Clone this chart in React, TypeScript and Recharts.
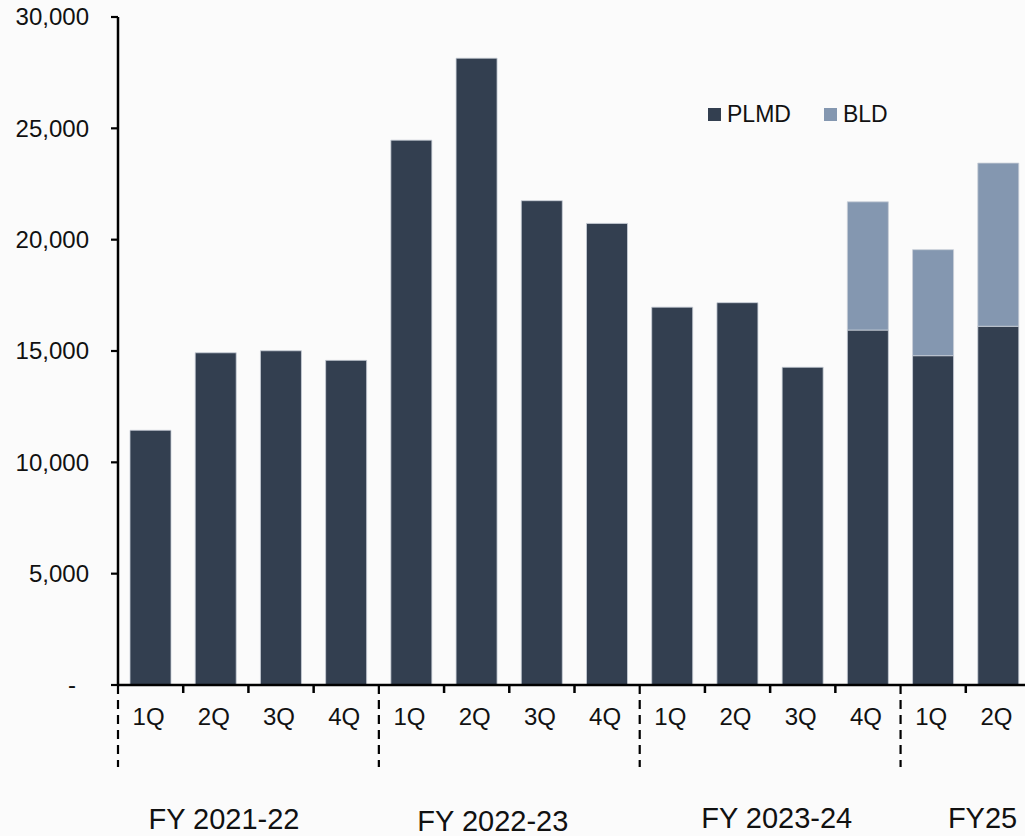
import { Bar, BarChart, XAxis, YAxis } from "recharts";

// quarterly volumes, PLMD + BLD (stacked)
const QUARTERS = ["1Q", "2Q", "3Q", "4Q", "1Q", "2Q", "3Q", "4Q", "1Q", "2Q", "3Q", "4Q", "1Q", "2Q"];
const PLMD = [11440, 14920, 15010, 14580, 24470, 28150, 21750, 20730, 16970, 17170, 14270, 15940, 14790, 16110];
const BLD = [0, 0, 0, 0, 0, 0, 0, 0, 0, 0, 0, 5760, 4760, 7330];
const Y_TICKS = [0, 5000, 10000, 15000, 20000, 25000, 30000];
const FY_GROUPS = [
  { label: "FY 2021-22", start: 0 },
  { label: "FY 2022-23", start: 4 },
  { label: "FY 2023-24", start: 8 },
  { label: "FY25", start: 12 },
];
const SERIES = [
  { key: "plmd", name: "PLMD" },
  { key: "bld", name: "BLD" },
];

const COLORS: Record<string, string> = { plmd: "#333f50", bld: "#8497b0" };
const FONT = "'Liberation Sans', Arial, sans-serif";
const CHART_W = 1031;
const CHART_H = 836;
const Y_AXIS_W = 118;
const X_AXIS_H = 151;
const BAND = (CHART_W - Y_AXIS_W) / QUARTERS.length;
// label placement relative to group start boundary (x offset, baseline)
const GROUP_LABEL_POS = [
  { dx: 106, y: 829 },
  { dx: 114, y: 831 },
  { dx: 137, y: 828 },
  { dx: 82, y: 828 },
];

const data = QUARTERS.map((q, i) => ({ q, plmd: PLMD[i], bld: BLD[i] }));

function QuarterTick(props: any) {
  const { x, y, payload } = props;
  const i: number = payload.index;
  const left = x - BAND / 2;
  const gi = FY_GROUPS.findIndex((g) => g.start === i);
  return (
    <g>
      {gi >= 0 ? (
        <line x1={left} x2={left} y1={y} y2={y + 82} stroke="#000" strokeWidth={2.2} strokeDasharray="9 6" />
      ) : (
        <line x1={left} x2={left} y1={y} y2={y + 8} stroke="#000" strokeWidth={2.5} />
      )}
      <text x={x - 2} y={y + 40} textAnchor="middle" fontSize={24} fontFamily={FONT} fill="#111">
        {QUARTERS[i]}
      </text>
      {gi >= 0 && (
        <text x={left + GROUP_LABEL_POS[gi].dx} y={GROUP_LABEL_POS[gi].y} textAnchor="middle" fontSize={29} fontFamily={FONT} fill="#111">
          {FY_GROUPS[gi].label}
        </text>
      )}
    </g>
  );
}

function ValueTick(props: any) {
  const { x, y, payload } = props;
  const v: number = payload.value;
  return (
    <text x={v === 0 ? x - 13 : x} y={y} dy="0.35em" textAnchor="end" fontSize={24} fontFamily={FONT} fill="#111">
      {v === 0 ? "-" : v.toLocaleString("en-US")}
    </text>
  );
}

function LegendBox() {
  return (
    <div style={{ position: "absolute", top: 102, left: 708, display: "flex", alignItems: "center", height: 24, fontFamily: FONT, fontSize: 23, color: "#111" }}>
      {SERIES.map((s, k) => (
        <div key={s.key} style={{ display: "flex", alignItems: "center", marginRight: k === 0 ? 33 : 0 }}>
          <span style={{ display: "inline-block", width: 13, height: 13, background: COLORS[s.key], marginRight: 6 }} />
          <span>{s.name}</span>
        </div>
      ))}
    </div>
  );
}

export default function App() {
  return (
    <div style={{ position: "absolute", left: 0, top: 0, width: 1025, height: 836, overflow: "hidden", background: "#fbfbfb" }}>
      <BarChart width={CHART_W} height={CHART_H} data={data} margin={{ top: 17, right: 0, bottom: 0, left: 0 }}>
        <XAxis
          dataKey="q"
          height={X_AXIS_H}
          interval={0}
          tickSize={0}
          tickMargin={0}
          tickLine={false}
          axisLine={{ stroke: "#000", strokeWidth: 2.5 }}
          tick={<QuarterTick />}
        />
        <YAxis
          width={Y_AXIS_W}
          domain={[0, 30000]}
          ticks={Y_TICKS}
          interval={0}
          tickSize={7}
          tickMargin={22}
          tickLine={{ stroke: "#000", strokeWidth: 2.2 }}
          axisLine={{ stroke: "#000", strokeWidth: 2.5 }}
          tick={<ValueTick />}
        />
        {SERIES.map((s) => (
          <Bar
            key={s.key}
            dataKey={s.key}
            name={s.name}
            stackId="s"
            fill={COLORS[s.key]}
            stroke="#c9cfd8"
            strokeWidth={0.8}
            barSize={41}
            isAnimationActive={false}
          />
        ))}
      </BarChart>
      <LegendBox />
    </div>
  );
}
